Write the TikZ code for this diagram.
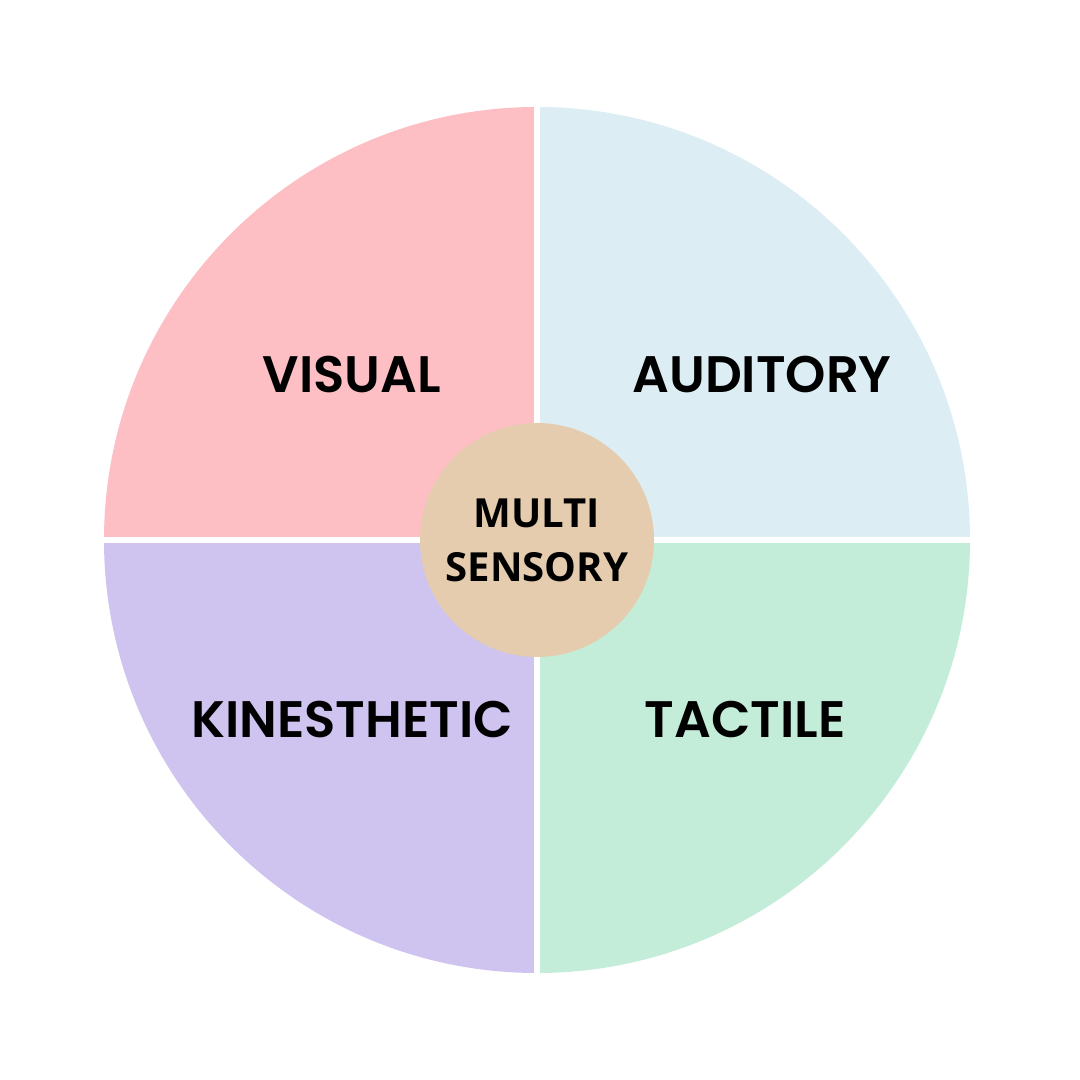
\documentclass[tikz,border=0pt]{standalone}
\usepackage{fontspec}
\newfontfamily\quadfont{Poppins}[UprightFont={* SemiBold}]
\newfontfamily\hubfont{Open Sans}[UprightFont={* Bold}]
\usetikzlibrary{calc}
\definecolor{visualpink}{HTML}{FDBFC4}
\definecolor{audblue}{HTML}{DCEEF4}
\definecolor{kinlilac}{HTML}{CFC3F0}
\definecolor{tacmint}{HTML}{C3EDD9}
\definecolor{hubtan}{HTML}{E6CCAE}

\begin{document}
\begin{tikzpicture}[x=0.01cm,y=0.01cm,
    quadlabel/.style={font=\quadfont\fontsize{14.6}{17}\selectfont, text=black, inner sep=0pt},
    hublabel/.style={font=\hubfont\fontsize{11.4}{15.4}\selectfont, text=black, align=center, inner sep=0pt}]
    \useasboundingbox (0,0) rectangle (1080,1080);
    \fill[white] (0,0) rectangle (1080,1080);

    \coordinate (c) at (537,540);
    % four quarters of the wheel
    \fill[visualpink] (c) -- ++(-433,0) arc[start angle=180, end angle=90,  radius=433] -- cycle;
    \fill[audblue]    (c) -- ++(0,433)  arc[start angle=90,  end angle=0,   radius=433] -- cycle;
    \fill[tacmint]    (c) -- ++(433,0)  arc[start angle=0,   end angle=-90, radius=433] -- cycle;
    \fill[kinlilac]   (c) -- ++(0,-433) arc[start angle=270, end angle=180, radius=433] -- cycle;
    %\draw[very thin,gray] (c) circle (433);

    % white gaps between quarters
    \draw[white, line width=1.6pt] ($(c)+(0,-440)$) -- ($(c)+(0,440)$);
    \draw[white, line width=1.6pt] ($(c)+(-440,0)$) -- ($(c)+(440,0)$);

    \node[quadlabel] (visual)  at (352,705) {VISUAL};
    \node[quadlabel] (audit)   at (762,705) {AUDITORY};
    \node[quadlabel] (kines)   at (352,360) {KINESTHETIC};
    \node[quadlabel] (tactile) at (745,360) {TACTILE};

    \fill[hubtan] (c) circle (117);
    \node[hublabel] (hub) at (c) {MULTI\\SENSORY};
  \end{tikzpicture}
\end{document}
